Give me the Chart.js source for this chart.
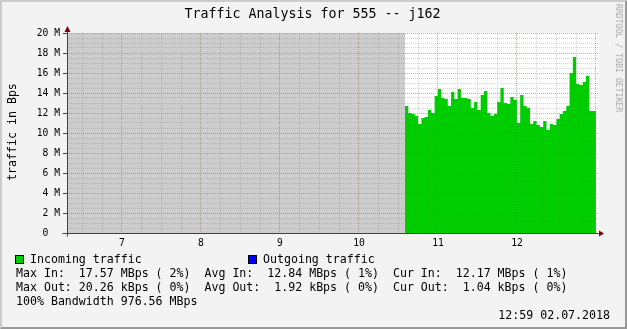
<!DOCTYPE html>
<html><head><meta charset="utf-8">
<script src="https://cdn.jsdelivr.net/npm/chart.js@4"></script>
<style>
html,body{margin:0;padding:0;}
body{width:627px;height:329px;position:relative;overflow:hidden;background:#f3f3f3;font-family:"DejaVu Sans Mono",monospace;}
#frame{position:absolute;left:0;top:0;width:623px;height:325px;border-left:2px solid #cbcbcb;border-top:2px solid #cbcbcb;border-right:2px solid #999;border-bottom:2px solid #999;}
canvas{position:absolute;left:0;top:0;}
.t{position:absolute;white-space:pre;font-size:11.6px;line-height:14px;color:#000;}
.box{position:absolute;width:7px;height:7px;border:1px solid #000;}
</style></head><body>
<div id="frame"></div>
<canvas id="c" width="627" height="329"></canvas>
<div class="t" style="left:0;width:625px;text-align:center;top:6px;font-size:13.3px;line-height:16px;">Traffic Analysis for 555 -- j162</div>
<div class="t" style="left:12px;top:132px;transform:translate(-50%,-50%) rotate(-90deg);">traffic in Bps</div>
<div class="t" style="left:619px;top:58px;font-size:8.2px;line-height:10px;color:#a8a8a8;transform:translate(-50%,-50%) rotate(90deg);">RRDTOOL / TOBI OETIKER</div>
<div class="box" style="left:15px;top:255px;background:#00cc00;"></div>
<div class="t" style="left:30px;top:252px;">Incoming traffic</div>
<div class="box" style="left:248px;top:255px;background:#0000ff;"></div>
<div class="t" style="left:263px;top:252px;">Outgoing traffic</div>
<div class="t" style="left:16px;top:266px;">Max In:  17.57 MBps ( 2%)  Avg In:  12.84 MBps ( 1%)  Cur In:  12.17 MBps ( 1%)</div>
<div class="t" style="left:16px;top:280px;">Max Out: 20.26 kBps ( 0%)  Avg Out:  1.92 kBps ( 0%)  Cur Out:  1.04 kBps ( 0%)</div>
<div class="t" style="left:16px;top:294px;">100% Bandwidth 976.56 MBps</div>
<div class="t" style="right:17px;top:308px;">12:59 02.07.2018</div>
<script>
// ---- data (hours of day, values in M bytes/s) ----
const timeMin = 6.304;          // left edge of graph (hours)
const timeMax = 13.038;         // right edge of graph (hours)
const unknownUntil = 10.582;    // no data before this time
const sampleStart = 10.582;     // first sample start
const sampleStepHours = 2.5 / 60;
const incomingM = [11.9, 12.7, 12.0, 11.9, 11.7, 10.9, 11.5, 11.6, 12.3, 12.0,
  13.7, 14.4, 13.5, 13.4, 12.7, 14.1, 13.4, 14.4, 13.5, 13.5,
  13.4, 12.5, 13.1, 12.3, 13.8, 14.2, 12.0, 11.7, 11.9, 13.1,
  14.5, 13.0, 12.9, 13.6, 13.3, 11.0, 13.8, 12.7, 12.5, 10.9,
  11.2, 10.8, 10.6, 11.2, 10.3, 10.9, 10.8, 11.4, 11.9, 12.2,
  12.7, 16.0, 17.6, 14.9, 14.8, 15.1, 15.7, 12.2];
const yMax = 20;
const yMajorStep = 2;
const yMinorStep = 0.5;
const xLabelHours = [7, 8, 9, 10, 11, 12];
const xMinorStep = 0.25;

// ---- build ----
const inPoints = incomingM.map((v, i) => ({x: sampleStart + i * sampleStepHours, y: v}));
inPoints.push({x: sampleStart + incomingM.length * sampleStepHours, y: incomingM[incomingM.length - 1]});
const unknownPoints = [{x: timeMin, y: yMax}, {x: unknownUntil, y: yMax}];

const xTicks = [];
for (let k = Math.ceil(timeMin / xMinorStep); k * xMinorStep < timeMax; k++) {
  const v = k * xMinorStep;
  if (v > timeMin) xTicks.push(v);
}

const AXIS = '#2c4d43';
const MAJOR = 'rgba(224,60,60,0.5)';
const MINOR = 'rgba(130,130,130,0.35)';
Chart.defaults.font.family = '"DejaVu Sans Mono", monospace';

const decor = {
  id: 'decor',
  beforeDraw(chart) {
    const {ctx, chartArea: a} = chart;
    ctx.save();
    ctx.fillStyle = '#ffffff';
    ctx.fillRect(a.left, a.top, a.right - a.left, a.bottom - a.top);
    ctx.restore();
  },
  afterDraw(chart) {
    const {ctx, chartArea: a} = chart;
    const L = Math.round(a.left) + 0.5, B = Math.round(a.bottom) + 0.5;
    ctx.save();
    ctx.strokeStyle = AXIS; ctx.lineWidth = 1;
    ctx.beginPath();
    ctx.moveTo(L - 5, B); ctx.lineTo(a.right + 1, B);
    ctx.moveTo(L, B + 3); ctx.lineTo(L, a.top - 2);
    ctx.stroke();
    ctx.fillStyle = '#7f0000';
    ctx.beginPath();
    ctx.moveTo(L, a.top - 7); ctx.lineTo(L - 3, a.top - 1); ctx.lineTo(L + 3, a.top - 1); ctx.closePath();
    ctx.fill();
    ctx.beginPath();
    ctx.moveTo(a.right + 5, B); ctx.lineTo(a.right, B - 3); ctx.lineTo(a.right, B + 3); ctx.closePath();
    ctx.fill();
    ctx.restore();
  }
};

new Chart(document.getElementById('c'), {
  type: 'line',
  data: {
    datasets: [
      {data: unknownPoints, fill: 'origin', backgroundColor: '#cdcdcd', borderWidth: 0, pointRadius: 0, tension: 0},
      {data: inPoints, stepped: 'after', fill: 'origin', backgroundColor: '#00cc00', borderWidth: 0, pointRadius: 0}
    ]
  },
  options: {
    responsive: false, animation: false,
    layout: {padding: {left: 0, right: 28, top: 33, bottom: 0}},
    plugins: {legend: {display: false}, tooltip: {enabled: false}, title: {display: false}},
    scales: {
      x: {
        type: 'linear', min: timeMin, max: timeMax,
        afterBuildTicks: s => { s.ticks = xTicks.map(v => ({value: v})); },
        afterFit: s => { s.height = 96; },
        ticks: {autoSkip: false, maxRotation: 0, padding: 2, color: '#000',
          font: {size: 9.7},
          callback: v => xLabelHours.includes(v) ? String(v) : ''},
        grid: {z: 1, color: c => (c.tick && Number.isInteger(c.tick.value)) ? MAJOR : MINOR,
          lineWidth: 1, drawTicks: true, tickLength: 3, tickColor: 'rgba(0,0,0,0)', borderDash: [1, 1]},
        border: {display: false, dash: [1, 1]}
      },
      y: {
        min: 0, max: yMax,
        afterFit: s => { s.width = 67; },
        ticks: {stepSize: yMinorStep, autoSkip: false, padding: 3, color: '#000',
          font: {size: 9.7},
          callback: v => (v % yMajorStep === 0) ? (v === 0 ? '0  ' : v + ' M') : ''},
        grid: {z: 1, color: c => (c.tick && c.tick.value % yMajorStep === 0) ? MAJOR : MINOR,
          lineWidth: 1, drawTicks: true, tickLength: 4,
          tickColor: c => (c.tick && c.tick.value % yMajorStep === 0) ? AXIS : 'rgba(0,0,0,0)', borderDash: [1, 1]},
        border: {display: false, dash: [1, 1]}
      }
    }
  },
  plugins: [decor]
});
</script>
</body></html>
